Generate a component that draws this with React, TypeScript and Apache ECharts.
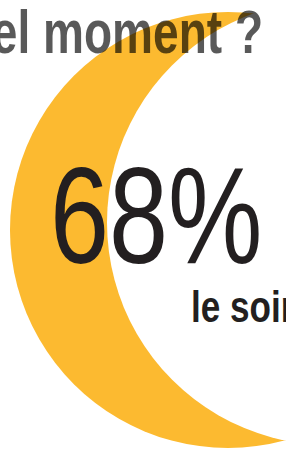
import React, { useEffect, useRef } from "react";
import * as echarts from "echarts";

// Data
const questionText = ["À quel moment ?"];
const shareValues = [68];
const momentLabels = ["le soir"];

export default function App() {
  const ref = useRef<HTMLDivElement>(null);
  useEffect(() => {
    if (!ref.current) return;
    const chart = echarts.init(ref.current, null, { renderer: "svg" });
    const yellow = "#FCBA30";
    chart.setOption({
      animation: false,
      backgroundColor: "#ffffff",
      graphic: [
        { type: "circle", z: 1, silent: true, shape: { cx: 228, cy: 230, r: 218 }, style: { fill: yellow } },
        { type: "circle", z: 2, silent: true, shape: { cx: 329.5, cy: 222.5, r: 222.5 }, style: { fill: "#ffffff" } },
        {
          type: "text", z: 5, x: 263, y: 32, scaleX: 0.755,
          style: {
            text: questionText[0],
            font: 'bold 61px "Liberation Sans", Arial, sans-serif',
            fill: "rgba(0,0,0,0.65)", align: "right", verticalAlign: "middle",
          },
        },
        {
          type: "text", z: 5, x: 50, y: 215, scaleX: 0.775,
          style: {
            text: shareValues[0] + "%",
            font: 'normal 137px "Liberation Sans", Arial, sans-serif',
            fill: "#231f20", align: "left", verticalAlign: "middle",
          },
        },
        {
          type: "text", z: 5, x: 191, y: 306, scaleX: 0.78,
          style: {
            text: momentLabels[0],
            font: 'bold 45px "Liberation Sans", Arial, sans-serif',
            fill: "#231f20", align: "left", verticalAlign: "middle",
          },
        },
      ],
    });
    return () => chart.dispose();
  }, []);
  return (
    <div
      ref={ref}
      style={{ position: "fixed", left: 0, top: 0, width: 286, height: 449 }}
    />
  );
}
